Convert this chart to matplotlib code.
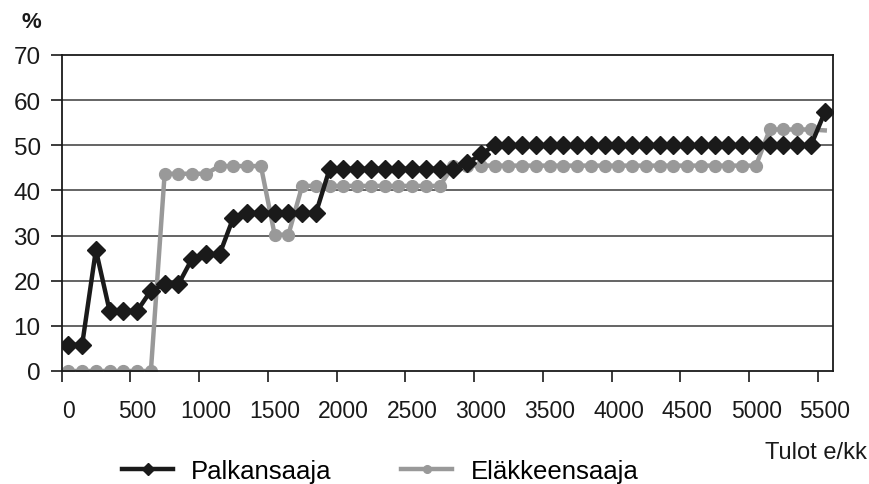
#!/usr/bin/env python3

import matplotlib
matplotlib.use("Agg")
import matplotlib.pyplot as plt
import matplotlib.transforms as mtransforms

# income bins (e/kk), midpoints of 100 e steps
income = list(range(50, 5600, 100))

palkansaaja = [
    5.8, 5.8, 26.8, 13.3, 13.3, 13.3, 17.8, 19.2, 19.2, 24.9,
    25.9, 25.9, 34.0, 35.0, 35.0, 35.0, 35.0, 35.0, 35.0, 44.8,
    44.8, 44.8, 44.8, 44.8, 44.8, 44.8, 44.8, 44.8, 44.8, 46.0,
    48.0, 50.0, 50.0, 50.0, 50.0, 50.0, 50.0, 50.0, 50.0, 50.0,
    50.0, 50.0, 50.0, 50.0, 50.0, 50.0, 50.0, 50.0, 50.0, 50.0,
    50.0, 50.0, 50.0, 50.0, 50.0, 57.3,
]

elakkeensaaja = [
    0.0, 0.0, 0.0, 0.0, 0.0, 0.0, 0.0, 43.7, 43.7, 43.7,
    43.7, 45.4, 45.4, 45.4, 45.4, 30.2, 30.2, 41.0, 41.0, 41.0,
    41.0, 41.0, 41.0, 41.0, 41.0, 41.0, 41.0, 41.0, 45.5, 45.5,
    45.5, 45.5, 45.5, 45.5, 45.5, 45.5, 45.5, 45.5, 45.5, 45.5,
    45.5, 45.5, 45.5, 45.5, 45.5, 45.5, 45.5, 45.5, 45.5, 45.5,
    45.5, 53.5, 53.5, 53.5, 53.5, 53.3,
]

x_ticks = list(range(0, 6000, 500))
y_ticks = list(range(0, 80, 10))

dark = '#1a1a1a'
grey = '#999999'

plt.rcParams['font.family'] = ['Liberation Sans', 'DejaVu Sans']
plt.rcParams['font.size'] = 17

fig = plt.figure(figsize=(8.69, 4.85), dpi=100)
ax = fig.add_axes([61.5 / 869, 1 - 372 / 485, (833 - 61.5) / 869, (372 - 56) / 485])

# gridlines behind the data
for y in y_ticks[1:-1]:
    ax.axhline(y, color='#3a3a3a', linewidth=1.1, zorder=0)

ax.plot(income, elakkeensaaja, color=grey, linewidth=3.2, marker='o',
        markersize=8.5, markevery=slice(0, len(income) - 1),
        label='Eläkkeensaaja', zorder=2)
ax.plot(income, palkansaaja, color=dark, linewidth=3.2, marker='D',
        markersize=9, label='Palkansaaja', zorder=3)

ax.set_xlim(0, 5610)
ax.set_ylim(0, 70)
ax.set_xticks(x_ticks)
ax.set_yticks(y_ticks)

for side in ['left', 'bottom', 'right', 'top']:
    ax.spines[side].set_color(dark)
    ax.spines[side].set_linewidth(1.3)

ax.tick_params(axis='x', direction='out', length=8, width=1.2, pad=12,
               color=dark, labelcolor=dark, labelsize=16.5)
ax.tick_params(axis='y', direction='out', length=8, width=1.2, pad=7,
               color=dark, labelcolor=dark, labelsize=17.5)

# x labels sit slightly right of their ticks
shift = mtransforms.ScaledTranslation(7 / 100, 0, fig.dpi_scale_trans)
for lbl in ax.get_xticklabels():
    lbl.set_transform(lbl.get_transform() + shift)

fig.text(31 / 869, 1 - 22 / 485, '%', ha='center', va='center',
         fontweight='bold', fontsize=16, color=dark)
fig.text(867 / 869, 1 - 453 / 485, 'Tulot e/kk', ha='right', va='center',
         color=dark, fontsize=17)

handles, labels = ax.get_legend_handles_labels()
fig.legend(handles[::-1], labels[::-1], loc='center', ncol=2,
           bbox_to_anchor=(380 / 869, 1 - 472 / 485), frameon=False,
           fontsize=18.5, handlelength=2.0, handletextpad=0.7,
           columnspacing=2.7, markerscale=0.65, borderpad=0)

fig.savefig('out.png', dpi=100)
